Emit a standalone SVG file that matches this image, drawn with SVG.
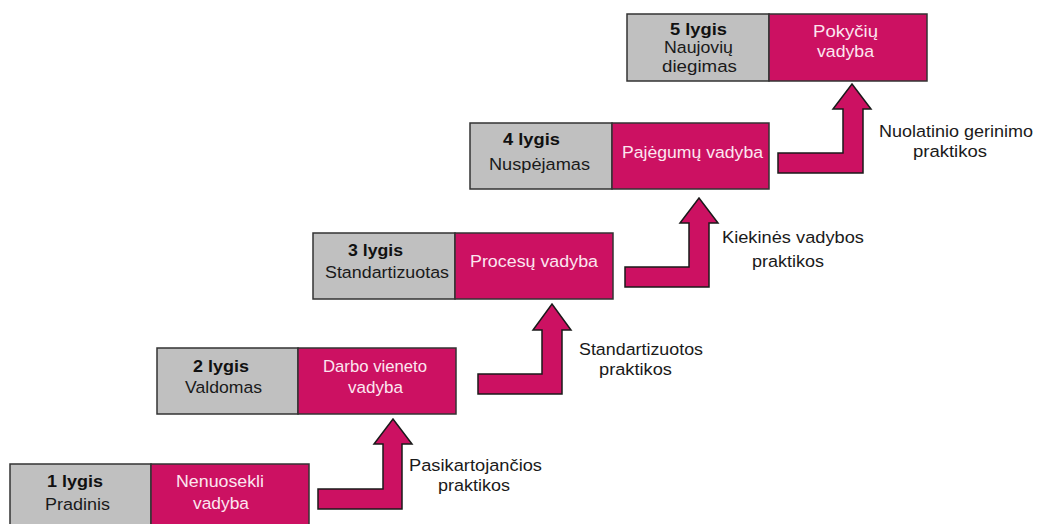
<svg xmlns="http://www.w3.org/2000/svg" width="1039" height="524" viewBox="0 0 1039 524">
  <style>
    .lvl { fill: #C0C0C0; stroke: #333333; stroke-width: 1.5; }
    .mgt { fill: #CC1162; stroke: #333333; stroke-width: 1.5; }
    .arrow { fill: #CC1162; stroke: #1a1a1a; stroke-width: 1.5; stroke-linejoin: miter; }
    text { font-family: "Liberation Sans", Arial, sans-serif; font-size: 16.8px; }
    .b { font-weight: bold; fill: #111111; }
    .g { fill: #1a1a1a; }
    .w { fill: #FCE6F0; }
    .lab { fill: #1a1a1a; }
  </style>
  <rect width="1039" height="524" fill="#ffffff"/>

  <!-- connectors: bent step arrows between levels -->
  <g id="connectors">
    <polygon id="arrow-1-2" class="arrow" points="318,489 383,489 383,444 374,444 393,419 412,444 402,444 402,509 318,509"/>
    <polygon id="arrow-2-3" class="arrow" points="478,374 542,374 542,330 533,330 552,304 571,330 562,330 562,394 478,394"/>
    <polygon id="arrow-3-4" class="arrow" points="625,267 689,267 689,223 680,223 699,198 718,223 709,223 709,287 625,287"/>
    <polygon id="arrow-4-5" class="arrow" points="778,153 843,153 843,109 833,109 852,84 871,109 863,109 863,173 778,173"/>
  </g>

  <!-- level 1 -->
  <g id="level-1">
    <rect class="lvl" x="10" y="464" width="141" height="66"/>
    <rect class="mgt" x="151" y="464" width="158" height="66"/>
    <text class="b" x="47" y="487" textLength="56" lengthAdjust="spacingAndGlyphs">1 lygis</text>
    <text class="g" x="45" y="510" textLength="65" lengthAdjust="spacingAndGlyphs">Pradinis</text>
    <text class="w" x="176" y="487" textLength="88" lengthAdjust="spacingAndGlyphs">Nenuosekli</text>
    <text class="w" x="193" y="509" textLength="56" lengthAdjust="spacingAndGlyphs">vadyba</text>
  </g>

  <!-- level 2 -->
  <g id="level-2">
    <rect class="lvl" x="157" y="348" width="141" height="66"/>
    <rect class="mgt" x="298" y="348" width="158" height="66"/>
    <text class="b" x="193" y="372" textLength="56" lengthAdjust="spacingAndGlyphs">2 lygis</text>
    <text class="g" x="185" y="393" textLength="77" lengthAdjust="spacingAndGlyphs">Valdomas</text>
    <text class="w" x="323" y="372" textLength="104" lengthAdjust="spacingAndGlyphs">Darbo vieneto</text>
    <text class="w" x="348" y="393" textLength="55" lengthAdjust="spacingAndGlyphs">vadyba</text>
  </g>

  <!-- level 3 -->
  <g id="level-3">
    <rect class="lvl" x="313" y="233" width="142" height="66"/>
    <rect class="mgt" x="455" y="233" width="158" height="66"/>
    <text class="b" x="348" y="256" textLength="55" lengthAdjust="spacingAndGlyphs">3 lygis</text>
    <text class="g" x="325" y="278" textLength="124" lengthAdjust="spacingAndGlyphs">Standartizuotas</text>
    <text class="w" x="470" y="267" textLength="128" lengthAdjust="spacingAndGlyphs">Procesų vadyba</text>
  </g>

  <!-- level 4 -->
  <g id="level-4">
    <rect class="lvl" x="470" y="123" width="142" height="66"/>
    <rect class="mgt" x="612" y="123" width="157" height="66"/>
    <text class="b" x="503" y="145" textLength="57" lengthAdjust="spacingAndGlyphs">4 lygis</text>
    <text class="g" x="489" y="170" textLength="101" lengthAdjust="spacingAndGlyphs">Nuspėjamas</text>
    <text class="w" x="622" y="158" textLength="141" lengthAdjust="spacingAndGlyphs">Pajėgumų vadyba</text>
  </g>

  <!-- level 5 -->
  <g id="level-5">
    <rect class="lvl" x="627" y="14" width="142" height="67"/>
    <rect class="mgt" x="769" y="14" width="158" height="67"/>
    <text class="b" x="670" y="35" textLength="57" lengthAdjust="spacingAndGlyphs">5 lygis</text>
    <text class="g" x="664" y="53" textLength="69" lengthAdjust="spacingAndGlyphs">Naujovių</text>
    <text class="g" x="662" y="72" textLength="75" lengthAdjust="spacingAndGlyphs">diegimas</text>
    <text class="w" x="813" y="37" textLength="65" lengthAdjust="spacingAndGlyphs">Pokyčių</text>
    <text class="w" x="817" y="57" textLength="57" lengthAdjust="spacingAndGlyphs">vadyba</text>
  </g>

  <!-- practice labels beside the arrows -->
  <g id="label-1-2">
    <text class="lab" x="409" y="471" textLength="133" lengthAdjust="spacingAndGlyphs">Pasikartojančios</text>
    <text class="lab" x="438" y="491" textLength="72" lengthAdjust="spacingAndGlyphs">praktikos</text>
  </g>
  <g id="label-2-3">
    <text class="lab" x="579" y="355" textLength="124" lengthAdjust="spacingAndGlyphs">Standartizuotos</text>
    <text class="lab" x="599" y="375" textLength="73" lengthAdjust="spacingAndGlyphs">praktikos</text>
  </g>
  <g id="label-3-4">
    <text class="lab" x="722" y="243" textLength="142" lengthAdjust="spacingAndGlyphs">Kiekinės vadybos</text>
    <text class="lab" x="752" y="267" textLength="72" lengthAdjust="spacingAndGlyphs">praktikos</text>
  </g>
  <g id="label-4-5">
    <text class="lab" x="879" y="137" textLength="154" lengthAdjust="spacingAndGlyphs">Nuolatinio gerinimo</text>
    <text class="lab" x="913" y="157" textLength="74" lengthAdjust="spacingAndGlyphs">praktikos</text>
  </g>
</svg>
